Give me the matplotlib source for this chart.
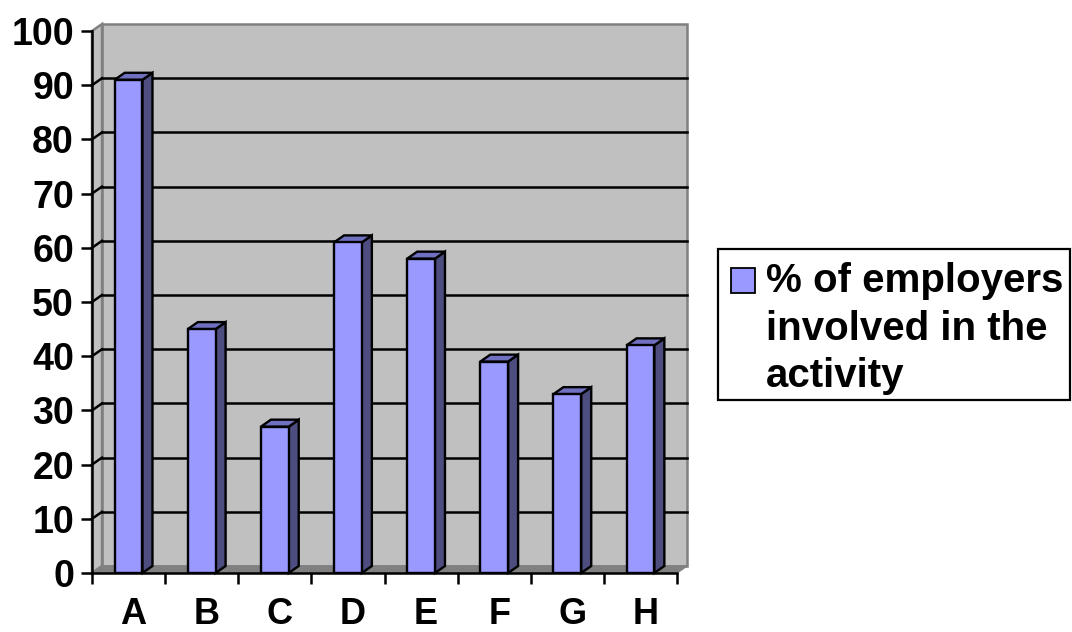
import matplotlib.pyplot as plt
from matplotlib.patches import Polygon, Rectangle

plt.rcParams['font.family'] = ['Liberation Sans', 'DejaVu Sans']

categories = ["A", "B", "C", "D", "E", "F", "G", "H"]
values = [91, 45, 27, 61, 58, 39, 33, 42]
yticks = list(range(0, 101, 10))
legend_label = "% of employers\ninvolved in the\nactivity"

front = "#9999FF"
side = "#4D4D80"
top = "#7070C0"
wall = "#C0C0C0"
floor = "#808080"

fig = plt.figure(figsize=(10.72, 6.32), dpi=100)
ax = fig.add_axes([92 / 1072, 59 / 632, 585 / 1072, 542 / 632])
ax.set_xlim(0, len(categories))
ax.set_ylim(0, 100)

# depth of the 3d look, in data units (about 10px right, 7px up)
dx = 0.137
dy = 1.29
n = len(categories)

# walls
ax.add_patch(Polygon([(dx, dy), (n + dx, dy), (n + dx, 100 + dy), (dx, 100 + dy)],
                     closed=True, facecolor=wall, edgecolor=floor, lw=1.8, clip_on=False, zorder=0))
ax.add_patch(Polygon([(0, 0), (dx, dy), (dx, 100 + dy), (0, 100)],
                     closed=True, facecolor=wall, edgecolor=floor, lw=1.8, clip_on=False, zorder=0))
ax.add_patch(Polygon([(0, 0), (n, 0), (n + dx, dy), (dx, dy)],
                     closed=True, facecolor=floor, edgecolor=floor, lw=1, clip_on=False, zorder=0.5))

# gridlines on back and side wall
for v in yticks[1:-1]:
    ax.plot([dx, n + dx], [v + dy, v + dy], color="black", lw=1.8, clip_on=False, zorder=1)
    ax.plot([0, dx], [v, v + dy], color="black", lw=1.8, clip_on=False, zorder=1)

# bars
w = 0.38
x_left = [i + 0.5 - w / 2 for i in range(n)]
ax.bar(x_left, values, width=w, align="edge", color=front, edgecolor="black", lw=1.7, zorder=3)
for x0, v in zip(x_left, values):
    x1 = x0 + w
    ax.add_patch(Polygon([(x1, 0), (x1 + dx, dy), (x1 + dx, v + dy), (x1, v)],
                         closed=True, facecolor=side, edgecolor="black", lw=1.7, clip_on=False, zorder=2))
    ax.add_patch(Polygon([(x0, v), (x0 + dx, v + dy), (x1 + dx, v + dy), (x1, v)],
                         closed=True, facecolor=top, edgecolor="black", lw=1.7, clip_on=False, zorder=2))

# axes
for s in ["top", "right"]:
    ax.spines[s].set_visible(False)
for s in ["left", "bottom"]:
    ax.spines[s].set_linewidth(1.8)
    ax.spines[s].set_zorder(4)
ax.set_facecolor("none")

ax.set_yticks(yticks)
ax.set_yticklabels([str(t) for t in yticks], fontsize=27, fontweight="bold")
ax.tick_params(axis="y", length=8, width=1.8, pad=5)

ax.set_xticks([i + 0.5 + dx / 2 for i in range(n)])
ax.set_xticklabels(categories, fontsize=26, fontweight="bold")
ax.set_xticks(range(n + 1), minor=True)
ax.tick_params(axis="x", which="major", length=0, pad=17)
ax.tick_params(axis="x", which="minor", length=8, width=1.8)

# legend box
fig.patches.append(Rectangle((718 / 1072, 1 - 400 / 632), 352 / 1072, 151 / 632,
                             transform=fig.transFigure, facecolor="white", edgecolor="black", lw=1.6))
fig.patches.append(Rectangle((731 / 1072, 1 - 293 / 632), 24 / 1072, 25 / 632,
                             transform=fig.transFigure, facecolor=front, edgecolor="black", lw=1.3))
fig.text(766 / 1072, 1 - 262 / 632, legend_label, fontsize=29, fontweight="bold",
         va="top", ha="left", linespacing=1.32)

fig.savefig("out.png", dpi=100)
